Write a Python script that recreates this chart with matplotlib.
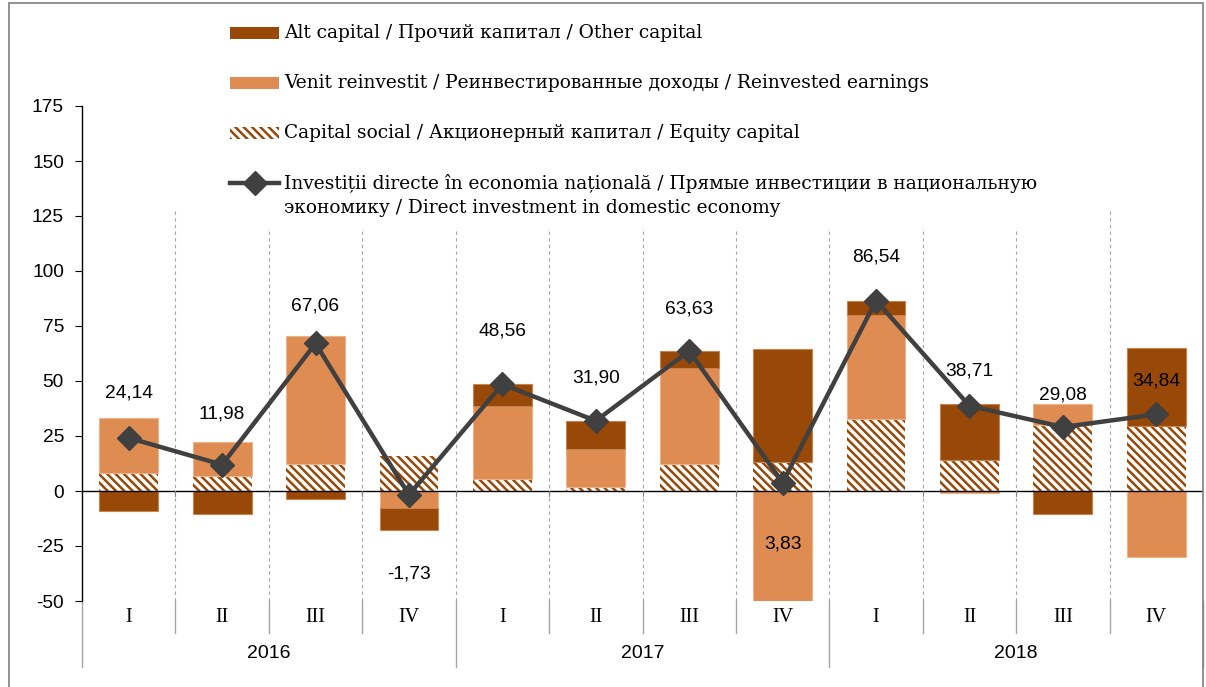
import numpy as np
import matplotlib
matplotlib.use("Agg")
import matplotlib.pyplot as plt
from matplotlib.patches import Rectangle
from matplotlib.lines import Line2D
from matplotlib import transforms

# ---------------- data ----------------
quarters = ["I", "II", "III", "IV"] * 3
years = ["2016", "2017", "2018"]
equity = [8.3, 6.6, 12.5, 15.9, 5.4, 2.0, 12.3, 13.3, 32.9, 14.1, 29.9, 29.6]
reinvested = [24.9, 15.7, 58.1, -7.5, 33.2, 17.1, 43.6, -51.1, 47.1, -0.7, 9.8, -30.1]
other = [-9.06, -10.3, -3.54, -10.13, 9.96, 12.8, 7.73, 51.2, 6.5, 25.3, -10.6, 35.3]
total = [24.14, 11.98, 67.06, -1.73, 48.56, 31.90, 63.63, 3.83, 86.54, 38.71, 29.08, 34.84]
total_labels = ["24,14", "11,98", "67,06", "-1,73", "48,56", "31,90",
                "63,63", "3,83", "86,54", "38,71", "29,08", "34,84"]
yticks = [-50, -25, 0, 25, 50, 75, 100, 125, 150, 175]

leg_other = "Alt capital / Прочий капитал / Other capital"
leg_reinv = "Venit reinvestit / Реинвестированные доходы / Reinvested earnings"
leg_equity = "Capital social / Акционерный капитал / Equity capital"
leg_total_1 = "Investiții directe în economia națională / Прямые инвестиции в национальную"
leg_total_2 = "экономику / Direct investment in domestic economy"

# ---------------- style ----------------
C_OTHER = "#984807"
C_REINV = "#DE8C52"
C_LINE = "#404040"
SERIF = ["DejaVu Serif"]
SANS = ["Liberation Sans", "DejaVu Sans"]
HATCH = "\\\\\\\\"
label_offsets = [45, 51, 37, -79, 53, 43, 42, -61, 44, 35, 32, 33]  # px (up +)

plt.rcParams["hatch.linewidth"] = 1.8

W, H = 1206, 687
fig = plt.figure(figsize=(W / 100, H / 100), dpi=100)
ax = fig.add_axes([82 / W, 1 - 601 / H, (1203 - 82) / W, (601 - 106) / H])

n = len(quarters)
x = np.arange(n)
bw = 0.63

pos_base = np.zeros(n)
neg_base = np.zeros(n)
series = [
    (equity, dict(facecolor="white", edgecolor=C_OTHER, hatch=HATCH, linewidth=0)),
    (reinvested, dict(facecolor=C_REINV, edgecolor="#EDB48C", linewidth=0.8)),
    (other, dict(facecolor=C_OTHER, edgecolor="#C9824E", linewidth=0.8)),
]
for vals, kw in series:
    v = np.array(vals, dtype=float)
    bottoms = np.where(v >= 0, pos_base, neg_base)
    ax.bar(x, v, bw, bottom=bottoms, zorder=2, **kw)
    pos_base = pos_base + np.where(v >= 0, v, 0)
    neg_base = neg_base + np.where(v < 0, v, 0)

ax.plot(x, total, color=C_LINE, lw=3.2, marker="D", markersize=12,
        markerfacecolor=C_LINE, markeredgecolor=C_LINE, zorder=4,
        solid_joinstyle="miter")

for xi, yi, lab, off in zip(x, total, total_labels, label_offsets):
    ax.annotate(lab, (xi, yi), xytext=(0, off * 0.72), textcoords="offset points",
                ha="center", va="center", fontsize=13.8, family=SANS,
                color="black", zorder=5)

ax.set_xlim(-0.5, n - 0.5)
ax.set_ylim(-50, 175)
ax.set_yticks(yticks)
ax.set_yticklabels([str(t) for t in yticks], fontsize=13.8, family=SANS)
ax.tick_params(axis="y", direction="out", length=5, width=0.8, pad=8)
ax.set_xticks([])
for s in ["top", "right", "bottom"]:
    ax.spines[s].set_visible(False)
ax.spines["left"].set_linewidth(1.0)
ax.spines["left"].set_color("black")

# vertical dashed gridlines at category boundaries
bounds = np.arange(0.5, n - 0.5, 1.0)
ax.vlines(bounds, -50, 128, colors="#A6A6A6", linestyles=(0, (3, 3)), lw=0.8, zorder=1)
ax.axvline(n - 0.5, color="#BFBFBF", lw=0.8, ymin=0, ymax=(128 + 50) / 225, zorder=1)
# zero line with small ticks
ax.axhline(0, color="black", lw=1.0, zorder=3)
tr = transforms.blended_transform_factory(ax.transData, ax.transAxes)
ax_h = 601 - 106
for b in list(bounds) + [n - 0.5]:
    ax.plot([b, b], [0, -2.3], color="#7F7F7F", lw=0.8, zorder=3)

# category axis labels below
for xi, q in zip(x, quarters):
    ax.text(xi, -17 / ax_h, q, transform=tr, ha="center", va="center",
            fontsize=14.5, family=["Liberation Serif"], color="black")
for i, yr in enumerate(years):
    ax.text(4 * i + 1.5, -53 / ax_h, yr, transform=tr, ha="center", va="center",
            fontsize=14, family=SANS, color="black")
for b in bounds:
    if (b + 0.5) % 4 == 0:
        continue
    ax.plot([b, b], [0, -32 / ax_h], transform=tr, color="#A6A6A6", lw=1.0, clip_on=False)
for b in [-0.5, 3.5, 7.5, 11.5]:
    ax.plot([b, b], [0, -66 / ax_h], transform=tr, color="#A6A6A6", lw=1.0, clip_on=False)

# outer frame
fig.patches.append(Rectangle((9 / W, -0.05), (1203 - 9) / W, 1.05 - 3 / H,
                             transform=fig.transFigure, fill=False,
                             edgecolor="#7F7F7F", lw=1.2))

# legend (manual placement)
def fy(py):
    return 1 - py / H

lx0, lx1, tx = 230 / W, 279 / W, 284 / W
rows = [33, 83, 133, 183]
fs_leg = 13.4
bg = Rectangle((222 / W, fy(228)), (1050 - 222) / W, (228 - 14) / H,
               transform=fig.transFigure, facecolor="white", edgecolor="none", zorder=5)
fig.patches.append(bg)
fig.patches.append(Rectangle((lx0, fy(rows[0] + 6)), lx1 - lx0, 12 / H, transform=fig.transFigure,
                             facecolor=C_OTHER, edgecolor="none", zorder=6))
fig.patches.append(Rectangle((lx0, fy(rows[1] + 6)), lx1 - lx0, 12 / H, transform=fig.transFigure,
                             facecolor=C_REINV, edgecolor="none", zorder=6))
fig.patches.append(Rectangle((lx0, fy(rows[2] + 6)), lx1 - lx0, 12 / H, transform=fig.transFigure,
                             facecolor="white", edgecolor=C_OTHER, hatch=HATCH, lw=0, zorder=6))
fig.lines.append(Line2D([lx0, lx1], [fy(rows[3]), fy(rows[3])], transform=fig.transFigure,
                        color=C_LINE, lw=3.2, zorder=6))
fig.lines.append(Line2D([(lx0 + lx1) / 2], [fy(rows[3])], transform=fig.transFigure,
                        marker="D", markersize=12, color=C_LINE, zorder=7))
for r, t in zip(rows, [leg_other, leg_reinv, leg_equity, leg_total_1]):
    fig.text(tx, fy(r), t, ha="left", va="center", fontsize=fs_leg, family=SERIF, zorder=7)
fig.text(tx, fy(rows[3] + 25), leg_total_2, ha="left", va="center", fontsize=fs_leg,
         family=SERIF, zorder=7)

fig.savefig("out.png", dpi=100)
